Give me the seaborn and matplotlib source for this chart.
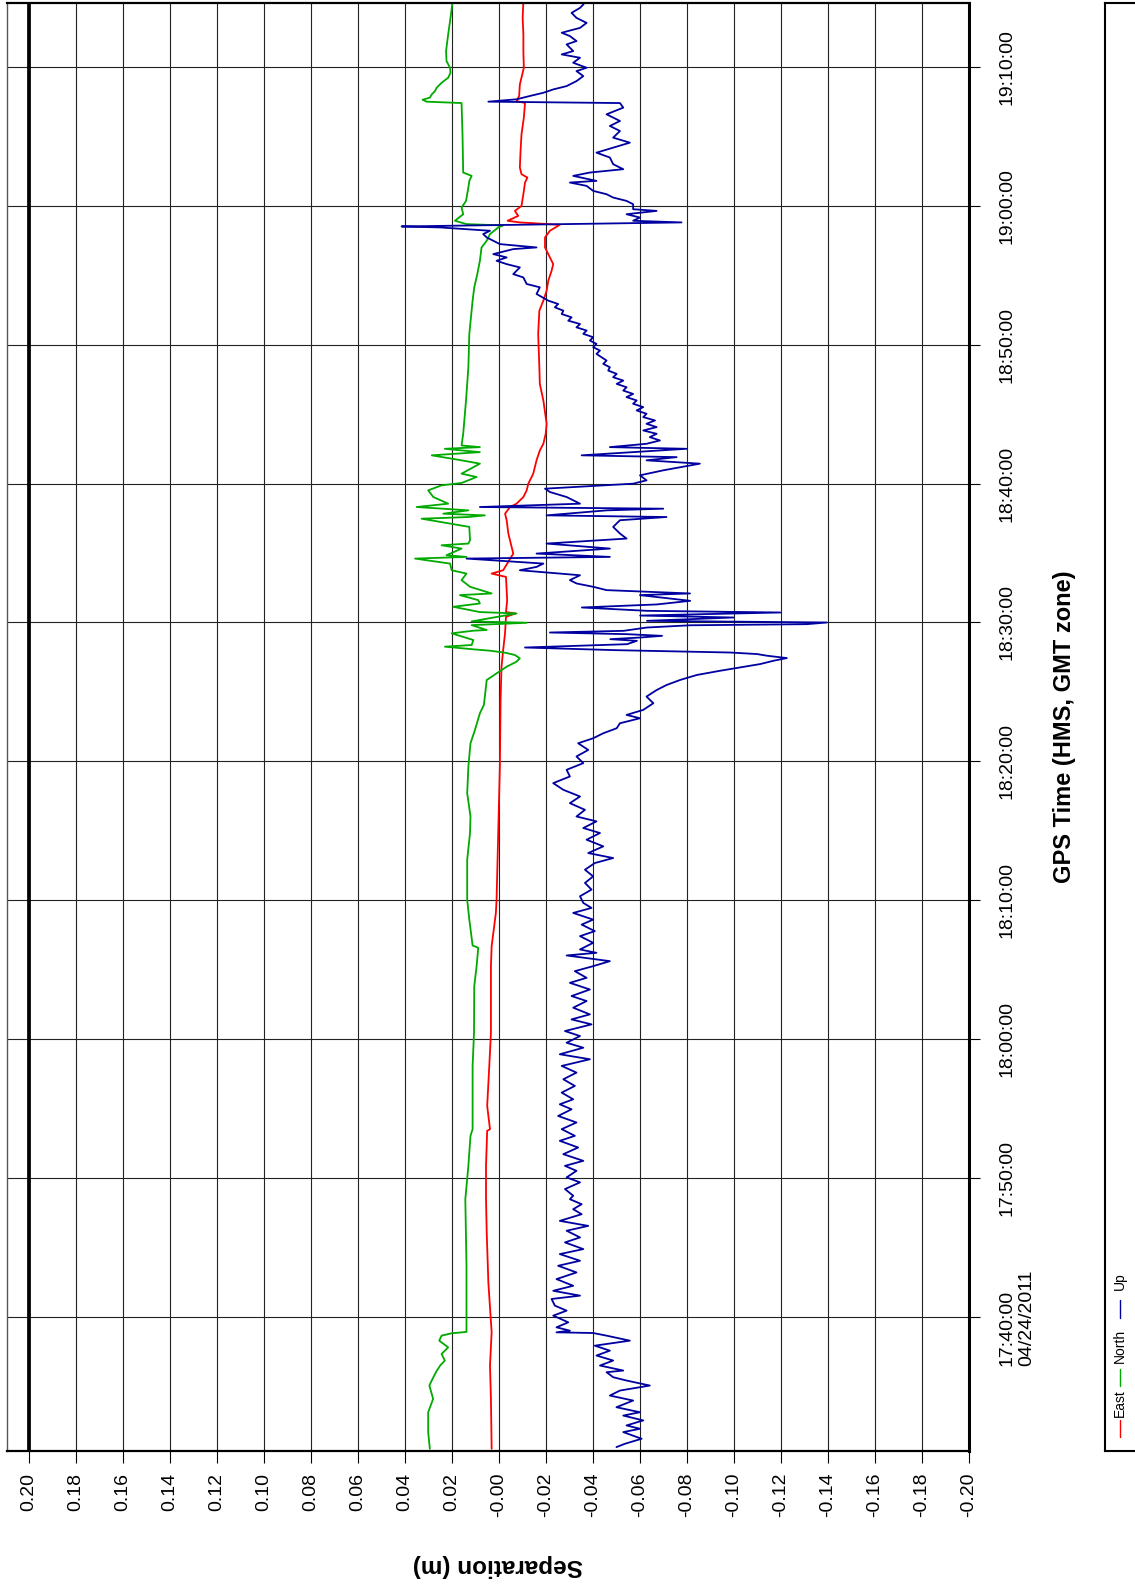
import seaborn as sns
import pandas as pd
import matplotlib.pyplot as plt

# GPS time in minutes after 17:30:00 (04/24/2011), separation in metres
t_east = [0.54, 4.13, 6.53, 8.92, 12.51, 16.11, 18.50, 20.90, 23.42, 23.54, 25.21, 28.09, 30.48, 35.27,
          36.71, 39.10, 40.06, 44.85, 49.64, 54.43, 56.82, 58.02, 59.22, 60.41, 60.65, 60.75, 61.61, 63.28,
          63.52, 63.76, 64.96, 66.40, 67.36, 67.83, 68.31, 68.55, 69.03, 69.51, 69.99, 70.71, 71.67, 72.38,
          72.86, 73.58, 74.30, 75.98, 77.17, 78.37, 80.77, 82.44, 83.16, 83.88, 84.59, 85.31, 85.79, 86.51,
          86.99, 87.71, 88.19, 88.62, 88.79, 88.91, 89.26, 89.62, 89.98, 90.82, 91.66, 92.02, 92.26, 92.74,
          93.93, 95.13, 96.33, 97.38, 97.53, 97.89, 98.72, 99.92, 101.12, 102.32, 103.51, 104.71]
east = [0.0031, 0.0034, 0.0038, 0.0031, 0.0045, 0.0052, 0.0055, 0.0055, 0.0050, 0.0038, 0.0050, 0.0041,
        0.0034, 0.0034, 0.0031, 0.0013, 0.0010, 0.0003, -0.0004, -0.0007, -0.0011, -0.0018, -0.0026, -0.0030,
        -0.0070, -0.0030, -0.0035, -0.0030, 0.0031, -0.0018, -0.0061, -0.0040, -0.0033, -0.0026, -0.0047,
        -0.0075, -0.0104, -0.0118, -0.0125, -0.0146, -0.0160, -0.0174, -0.0189, -0.0199, -0.0203, -0.0189,
        -0.0174, -0.0172, -0.0167, -0.0172, -0.0189, -0.0203, -0.0210, -0.0224, -0.0231, -0.0210, -0.0196,
        -0.0196, -0.0217, -0.0259, -0.0089, -0.0037, -0.0082, -0.0068, -0.0096, -0.0104, -0.0111, -0.0121,
        -0.0096, -0.0089, -0.0092, -0.0096, -0.0106, -0.0111, -0.0075, -0.0086, -0.0089, -0.0106, -0.0104,
        -0.0104, -0.0101, -0.0104]

t_north = [0.54, 1.74, 3.17, 4.13, 5.09, 5.45, 6.05, 6.53, 6.89, 7.36, 7.84, 8.32, 8.68, 8.85, 8.95, 10.07,
           13.71, 18.50, 20.90, 23.06, 23.54, 28.09, 30.48, 33.83, 35.27, 36.59, 36.76, 38.62, 40.06, 42.93,
           44.85, 46.04, 47.72, 49.64, 51.31, 52.27, 53.47, 54.07, 55.38, 55.86, 56.34, 56.82, 57.18, 57.42,
           57.66, 57.83, 57.97, 58.07, 58.26, 58.38, 58.74, 59.22, 59.41, 59.46, 59.81, 59.98, 60.08, 60.65,
           60.75, 61.13, 61.37, 61.61, 61.97, 62.09, 62.57, 63.05, 63.52, 63.76, 64.24, 64.60, 64.72, 64.84,
           65.32, 65.56, 65.68, 65.92, 66.88, 67.47, 67.59, 67.71, 67.83, 68.07, 68.31, 68.55, 69.03, 69.51,
           69.87, 70.04, 70.47, 70.71, 71.43, 71.67, 72.03, 72.26, 72.50, 72.62, 72.74, 73.58, 75.98, 78.37,
           80.77, 83.16, 84.12, 85.07, 86.03, 86.99, 87.47, 87.95, 88.43, 88.57, 88.67, 88.91, 89.38, 89.86,
           90.34, 91.30, 91.78, 92.14, 92.38, 95.13, 97.38, 97.48, 97.62, 97.77, 98.00, 98.24, 98.48, 98.84,
           99.20, 99.56, 99.92, 100.40, 101.12, 102.32, 103.51, 104.71]
north = [0.0294, 0.0301, 0.0301, 0.0280, 0.0296, 0.0286, 0.0268, 0.0250, 0.0230, 0.0244, 0.0216, 0.0254,
         0.0244, 0.0202, 0.0138, 0.0138, 0.0138, 0.0143, 0.0130, 0.0121, 0.0112, 0.0112, 0.0106, 0.0105,
         0.0095, 0.0088, 0.0112, 0.0126, 0.0135, 0.0135, 0.0123, 0.0121, 0.0135, 0.0130, 0.0121, 0.0102,
         0.0081, 0.0064, 0.0055, 0.0052, 0.0010, -0.0033, -0.0075, -0.0089, -0.0068, -0.0026, 0.0038, 0.0109,
         0.0230, 0.0116, 0.0109, 0.0201, 0.0109, 0.0052, 0.0116, -0.0118, 0.0116, -0.0075, 0.0081, 0.0194,
         0.0081, 0.0088, 0.0166, 0.0031, 0.0123, 0.0159, 0.0138, 0.0201, 0.0208, 0.0357, 0.0138, 0.0223,
         0.0159, 0.0244, 0.0130, 0.0123, 0.0126, 0.0329, 0.0130, 0.0060, 0.0237, 0.0130, 0.0350, 0.0216,
         0.0279, 0.0301, 0.0244, 0.0159, 0.0095, 0.0159, 0.0081, 0.0159, 0.0286, 0.0081, 0.0230, 0.0081,
         0.0159, 0.0152, 0.0140, 0.0130, 0.0126, 0.0112, 0.0105, 0.0092, 0.0081, 0.0074, 0.0052, 0.0038,
         0.0003, -0.0018, 0.0138, 0.0187, 0.0152, 0.0159, 0.0140, 0.0130, 0.0126, 0.0116, 0.0152, 0.0155,
         0.0159, 0.0308, 0.0325, 0.0294, 0.0286, 0.0272, 0.0265, 0.0244, 0.0216, 0.0206, 0.0208, 0.0223,
         0.0225, 0.0216, 0.0206, 0.0197]

t_up = [0.66, 0.90, 1.26, 1.74, 1.98, 2.22, 2.58, 2.93, 3.17, 3.53, 4.01, 4.37, 4.73, 5.09, 5.45, 5.69,
        6.05, 6.17, 6.53, 6.89, 7.25, 7.60, 7.96, 8.32, 8.68, 8.87, 8.92, 9.04, 9.28, 9.64, 10.12, 10.48,
        10.84, 11.32, 11.56, 11.91, 12.27, 12.75, 13.23, 13.71, 14.07, 14.55, 14.91, 15.39, 15.75, 16.23,
        16.58, 16.94, 17.42, 17.78, 18.14, 18.50,
        18.75, 19.23, 19.71, 20.07, 20.54, 20.90, 21.26, 21.74, 22.22, 22.70, 23.06, 23.54, 24.02, 24.49,
        24.97, 25.33, 25.69, 26.17, 26.65, 27.13, 27.61, 28.09, 28.57, 28.93, 29.40, 29.76, 30.24, 30.60,
        31.08, 31.44, 31.80, 32.28, 32.76, 33.12, 33.59, 34.07, 34.43, 34.91, 35.27, 35.63, 36.04, 36.23,
        36.47, 36.95, 37.43, 37.79, 38.26, 38.62, 39.10, 39.46, 39.82,
        40.30, 40.78, 41.26, 41.73, 42.21, 42.69, 43.05, 43.41, 43.89, 44.37, 44.85, 45.21, 45.69, 46.04,
        46.52, 47.00, 47.48, 47.96, 48.44, 48.92, 49.40, 49.88, 50.36, 50.83, 51.31, 51.67, 52.03, 52.39,
        52.75, 53.11, 53.35, 53.71, 54.19, 54.67, 55.14, 55.50, 55.86, 56.22,
        56.53, 56.77, 57.01, 57.25, 57.44, 57.61, 57.73, 57.84, 58.01, 58.20, 58.44, 58.68, 58.80, 58.92,
        59.04, 59.16, 59.28, 59.40, 59.64, 59.80, 59.88, 60.00, 60.12, 60.36, 60.50, 60.72, 60.84, 61.08,
        61.30, 61.56,
        61.97, 62.09, 62.33, 62.57, 62.81, 63.05, 63.40, 63.64, 63.76, 64.00, 64.24, 64.60, 64.72, 64.96,
        65.32, 65.68, 66.04, 66.40, 66.88, 67.36, 67.59, 67.71, 68.07, 68.19, 68.31, 68.55, 69.03, 69.39,
        69.63, 69.99, 70.23, 70.59, 70.95, 71.43, 71.67, 71.90, 72.03, 72.50, 72.62, 72.86, 73.10, 73.34,
        73.58, 73.82, 74.06, 74.30, 74.54, 74.78, 75.02, 75.26, 75.50, 75.74, 75.98, 76.22, 76.45, 76.69,
        76.93, 77.17, 77.41, 77.65, 77.89, 78.13, 78.37, 78.61, 78.85, 79.33, 79.57, 79.81, 80.05, 80.29,
        80.53, 80.77, 81.01, 81.24, 81.48, 81.72, 81.96, 82.20, 82.44, 82.68, 82.92, 83.16,
        83.64, 84.12, 84.36, 84.83, 85.07, 85.55, 85.79, 86.03, 86.27, 86.51, 86.87, 86.99, 87.23, 87.47,
        87.71, 87.95, 88.19, 88.43, 88.50, 88.79, 88.91, 89.14, 89.38, 89.62, 89.74, 90.10, 90.34, 90.58,
        90.82, 91.06, 91.42, 91.66, 91.78, 92.14, 92.38, 92.62, 92.98, 93.46, 93.81, 94.17, 94.53, 94.89,
        95.37, 95.73, 96.09, 96.57, 97.05, 97.38, 97.48, 97.65, 97.89, 98.12, 98.36, 98.60, 98.96, 99.32,
        99.68, 99.92, 100.28, 100.64, 100.88, 101.12, 101.60, 101.84, 102.20, 102.44, 102.79, 103.15,
        103.51, 103.87, 104.23, 104.47, 104.71]
up = [-0.0500, -0.0536, -0.0607, -0.0529, -0.0600, -0.0543, -0.0614, -0.0529, -0.0600, -0.0500, -0.0571,
      -0.0472, -0.0515, -0.0642, -0.0543, -0.0486, -0.0458, -0.0529, -0.0430, -0.0486, -0.0415, -0.0472,
      -0.0408, -0.0557, -0.0458, -0.0401, -0.0245, -0.0302, -0.0245, -0.0295, -0.0231, -0.0288, -0.0238,
      -0.0224, -0.0345, -0.0231, -0.0316, -0.0245, -0.0330, -0.0252, -0.0345, -0.0259, -0.0359, -0.0281,
      -0.0345, -0.0288, -0.0380, -0.0259, -0.0352, -0.0316, -0.0352, -0.0302,
      -0.0316, -0.0281, -0.0345, -0.0288, -0.0330, -0.0281, -0.0359, -0.0274, -0.0337, -0.0259, -0.0323,
      -0.0267, -0.0330, -0.0252, -0.0309, -0.0259, -0.0316, -0.0267, -0.0323, -0.0274, -0.0330, -0.0267,
      -0.0387, -0.0259, -0.0359, -0.0288, -0.0345, -0.0281, -0.0394, -0.0309, -0.0387, -0.0316, -0.0373,
      -0.0309, -0.0387, -0.0302, -0.0373, -0.0323, -0.0401, -0.0472, -0.0288, -0.0415, -0.0345, -0.0401,
      -0.0345, -0.0408, -0.0352, -0.0401, -0.0316, -0.0394, -0.0359,
      -0.0345, -0.0394, -0.0366, -0.0401, -0.0366, -0.0408, -0.0486, -0.0380, -0.0444, -0.0373, -0.0430,
      -0.0359, -0.0415, -0.0330, -0.0366, -0.0302, -0.0345, -0.0274, -0.0231, -0.0302, -0.0288, -0.0359,
      -0.0330, -0.0380, -0.0337, -0.0401, -0.0444, -0.0501, -0.0515, -0.0600, -0.0543, -0.0614, -0.0657,
      -0.0628, -0.0671, -0.0713, -0.0770, -0.0841,
      -0.0942, -0.1027, -0.1112, -0.1169, -0.1225, -0.1140, -0.1098, -0.0984, -0.0495, -0.0111, -0.0545,
      -0.0587, -0.0474, -0.0601, -0.0694, -0.0545, -0.0217, -0.0530, -0.0630, -0.0814, -0.1310, -0.1395,
      -0.0630, -0.0998, -0.0601, -0.1197, -0.0630, -0.0353, -0.0672, -0.0814,
      -0.0600, -0.0813, -0.0458, -0.0401, -0.0330, -0.0302, -0.0345, -0.0174, -0.0089, -0.0160, -0.0189,
      0.0138, -0.0472, -0.0160, -0.0472, -0.0203, -0.0543, -0.0515, -0.0486, -0.0515, -0.0713, -0.0203,
      -0.0458, -0.0699, 0.0081, -0.0345, -0.0288, -0.0217, -0.0196, -0.0571, -0.0628, -0.0600, -0.0699,
      -0.0855, -0.0628, -0.0756, -0.0352, -0.0798, -0.0472, -0.0628, -0.0685, -0.0642, -0.0671, -0.0614,
      -0.0671, -0.0628, -0.0664, -0.0614, -0.0628, -0.0586, -0.0614, -0.0571, -0.0586, -0.0543, -0.0571,
      -0.0529, -0.0543, -0.0501, -0.0529, -0.0486, -0.0501, -0.0465, -0.0472, -0.0444, -0.0458, -0.0415,
      -0.0430, -0.0401, -0.0415, -0.0387, -0.0401, -0.0359, -0.0373, -0.0330, -0.0345, -0.0295, -0.0309,
      -0.0267, -0.0274, -0.0238, -0.0252, -0.0210,
      -0.0160, -0.0174, -0.0118, -0.0104, -0.0061, -0.0089, -0.0033, 0.0010, -0.0033, 0.0024, -0.0061,
      -0.0160, -0.0004, 0.0024, 0.0052, 0.0067, 0.0038, 0.0251, 0.0414, -0.0777, -0.0571, -0.0600, -0.0543,
      -0.0671, -0.0571, -0.0571, -0.0543, -0.0486, -0.0458, -0.0401, -0.0373, -0.0302, -0.0415, -0.0316,
      -0.0387, -0.0529, -0.0486, -0.0472, -0.0415, -0.0486, -0.0557, -0.0486, -0.0515, -0.0472, -0.0515,
      -0.0458, -0.0529, -0.0515, 0.0045, -0.0075, -0.0132, -0.0189, -0.0231, -0.0288, -0.0330, -0.0359,
      -0.0330, -0.0373, -0.0316, -0.0345, -0.0267, -0.0316, -0.0288, -0.0330, -0.0302, -0.0267, -0.0345,
      -0.0373, -0.0330, -0.0309, -0.0345, -0.0359, -0.0366]

components = ["East", "North", "Up"]
colors = ["#ff0000", "#00aa00", "#0000a0"]

sep_ticks = [0.20, 0.18, 0.16, 0.14, 0.12, 0.10, 0.08, 0.06, 0.04, 0.02, 0.00,
             -0.02, -0.04, -0.06, -0.08, -0.10, -0.12, -0.14, -0.16, -0.18, -0.20]
sep_labels = ["0.20", "0.18", "0.16", "0.14", "0.12", "0.10", "0.08", "0.06", "0.04", "0.02", "-0.00",
              "-0.02", "-0.04", "-0.06", "-0.08", "-0.10", "-0.12", "-0.14", "-0.16", "-0.18", "-0.20"]
time_ticks = [10, 20, 30, 40, 50, 60, 70, 80, 90, 100]
time_labels = ["17:40:00\n04/24/2011", "17:50:00", "18:00:00", "18:10:00", "18:20:00",
               "18:30:00", "18:40:00", "18:50:00", "19:00:00", "19:10:00"]

df = pd.concat([
    pd.DataFrame({"Time": t_east, "Separation": east, "Component": "East"}),
    pd.DataFrame({"Time": t_north, "Separation": north, "Component": "North"}),
    pd.DataFrame({"Time": t_up, "Separation": up, "Component": "Up"}),
], ignore_index=True)

sns.set_style("white")
plt.rcParams["font.family"] = ["Liberation Sans", "DejaVu Sans"]
plt.rcParams["text.color"] = "black"
plt.rcParams["xtick.color"] = "black"
plt.rcParams["ytick.color"] = "black"
plt.rcParams["axes.labelcolor"] = "black"

W, H = 1135, 1589
fig = plt.figure(figsize=(W / 100, H / 100), dpi=100)
# the whole chart is drawn turned a quarter turn: time runs up, separation runs right-to-left
ax = fig.add_axes([7 / W, (H - 1451) / H, 962 / W, 1448 / H])

sns.lineplot(
    data=df,
    x="Separation",
    y="Time",
    hue="Component",
    hue_order=components,
    palette=dict(zip(components, colors)),
    orient="y",
    sort=False,
    estimator=None,
    legend=False,
    linewidth=1.3,
    ax=ax
)

ax.set_xlim(0.2093, -0.20)
ax.set_ylim(0.38, 104.58)
ax.set_xticks(sep_ticks)
ax.set_xticklabels(sep_labels, rotation=90, fontsize=14)
ax.yaxis.tick_right()
ax.set_yticks(time_ticks)
ax.set_yticklabels(time_labels, rotation=90, fontsize=14, va="center", ha="left", linespacing=1.25)
ax.tick_params(axis="x", bottom=True, direction="out", length=8.5, width=0.8, pad=7)
ax.tick_params(axis="y", right=True, left=False, direction="out", length=8, width=0.8, pad=13)
ax.grid(True, color="#222222", linewidth=0.8)
ax.set_axisbelow(True)
ax.axvline(0.20, color="black", linewidth=2.7, zorder=1)

ax.spines["left"].set(linewidth=1.0, color="#555555")
ax.spines["top"].set(linewidth=1.6, color="black")
ax.spines["right"].set(linewidth=2.2, color="black")
ax.spines["bottom"].set(linewidth=1.6, color="black")

ax.set_xlabel("Separation (m)", fontsize=17.5, fontweight="bold", rotation=180)
ax.xaxis.set_label_coords((498 - 7) / 962, -(1566 - 1451) / 1448)
ax.xaxis.label.set_va("center")
ax.yaxis.set_label_position("right")
ax.set_ylabel("GPS Time (HMS, GMT zone)", fontsize=17, fontweight="bold", rotation=90)
ax.yaxis.set_label_coords((1064 - 7) / 962, 0.5)
ax.yaxis.label.set_va("center")
ax.yaxis.label.set_ha("center")

# legend box along the right edge, entries turned like the rest of the chart
lax = fig.add_axes([1105 / W, (H - 1451) / H, 50 / W, 1448 / H])
lax.set_xlim(1105, 1155)
lax.set_ylim(1451, 3)
lax.set_xticks([])
lax.set_yticks([])
lax.spines["right"].set_visible(False)
for s in ["left", "top", "bottom"]:
    lax.spines[s].set(linewidth=1.5, color="black")
legend_slots = [(1437, 1420, 1403), (1386, 1369, 1346), (1318, 1300, 1281)]
for name, color, (y0, y1, ty) in zip(components, colors, legend_slots):
    lax.plot([1120, 1120], [y0, y1], color=color, linewidth=1.0)
    lax.text(1120, ty, name, rotation=90, ha="center", va="center", fontsize=10)

fig.savefig("out.png", dpi=100)
